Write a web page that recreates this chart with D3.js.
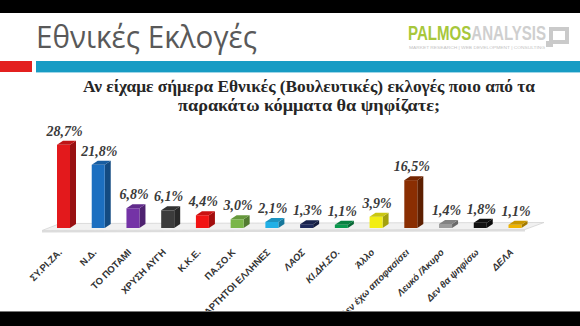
<!DOCTYPE html>
<html>
<head>
<meta charset="utf-8">
<script src="https://cdn.jsdelivr.net/npm/d3@7"></script>
<style>
  body { margin: 0; background: #fff; }
  svg { display: block; }
</style>
</head>
<body>
<svg id="chart"></svg>
<script>
// Party names as they appear under the bars
const categories = [
  'ΣΥ.ΡΙ.ΖΑ.', 'Ν.Δ.', 'ΤΟ ΠΟΤΑΜΙ', 'ΧΡΥΣΗ ΑΥΓΗ', 'Κ.Κ.Ε.', 'ΠΑ.ΣΟ.Κ',
  'ΑΝΕΞΑΡΤΗΤΟΙ ΕΛΛΗΝΕΣ', 'ΛΑΟΣ', 'ΚΙ.ΔΗ.ΣΟ.', 'Άλλο', 'Δεν έχω αποφασίσει',
  'Λευκό /Άκυρο', 'Δεν θα ψηφίσω', 'ΔΕΛΑ'
];
// Vote share (%)
const values = [28.7, 21.8, 6.8, 6.1, 4.4, 3.0, 2.1, 1.3, 1.1, 3.9, 16.5, 1.4, 1.8, 1.1];
const barColors = [
  '#e3191c', '#1c6fc0', '#7433a6', '#3c3c3c', '#f21414', '#7ab648',
  '#21b0e6', '#1e2a5c', '#0a9a4e', '#f2ee14', '#8a2e02', '#9c9c9c',
  '#111111', '#f0b400'
];

const titleText = 'Εθνικές Εκλογές';
const questionLines = [
  'Αν είχαμε σήμερα Εθνικές (Βουλευτικές) εκλογές ποιο από τα',
  'παρακάτω κόμματα θα ψηφίζατε;'
];

const width = 580, height = 326;

const svg = d3.select('#chart')
  .attr('width', width)
  .attr('height', height);

// ---- slide frame: black band on top
svg.append('rect').attr('x', 0).attr('y', 0).attr('width', width).attr('height', 13).attr('fill', '#000');

// ---- header
svg.append('text')
  .attr('x', 36)
  .attr('y', 48)
  .attr('font-family', '"Open Sans", "Noto Sans", sans-serif')
  .attr('font-size', 31)
  .attr('fill', '#595959')
  .attr('textLength', 221)
  .attr('lengthAdjust', 'spacingAndGlyphs')
  .text(titleText);

svg.append('rect').attr('x', 0).attr('y', 61).attr('width', 32).attr('height', 11).attr('fill', '#e3201f');
svg.append('rect').attr('x', 36).attr('y', 61).attr('width', width - 36).attr('height', 11).attr('fill', '#189cc4');
svg.append('rect').attr('x', 36).attr('y', 72).attr('width', width - 36).attr('height', 1).attr('fill', '#9fd6e8');

// logo: one text, two colours
const logo = svg.append('text')
  .attr('x', 408).attr('y', 40)
  .attr('font-family', '"Liberation Sans", Arial, sans-serif')
  .attr('font-weight', 'bold')
  .attr('font-size', 20)
  .attr('textLength', 138)
  .attr('lengthAdjust', 'spacingAndGlyphs');
logo.append('tspan').attr('fill', '#a7c73b').text('PALMOS');
logo.append('tspan').attr('fill', '#cfcfcf').text('ANALYSIS');
svg.append('text').attr('x', 409).attr('y', 48.5).attr('font-size', 3.5).attr('fill', '#c4c4c4')
  .attr('font-family', '"Liberation Sans", Arial, sans-serif')
  .attr('textLength', 136).attr('lengthAdjust', 'spacingAndGlyphs')
  .text('MARKET RESEARCH | WEB DEVELOPMENT | CONSULTING');
svg.append('rect').attr('x', 551).attr('y', 29).attr('width', 16).attr('height', 13)
  .attr('fill', 'none').attr('stroke', '#cacaca').attr('stroke-width', 4);
svg.append('rect').attr('x', 546).attr('y', 41).attr('width', 7).attr('height', 6).attr('fill', '#cacaca');

// question
svg.append('g')
  .attr('font-family', '"Liberation Serif", "DejaVu Serif", serif')
  .attr('font-weight', 'bold')
  .attr('font-size', 16)
  .attr('fill', '#262626')
  .attr('text-anchor', 'middle')
  .selectAll('text')
  .data(questionLines)
  .join('text')
  .attr('x', 309)
  .attr('y', (d, i) => 92 + i * 19)
  .attr('textLength', (d, i) => i === 0 ? 452 : 262)
  .attr('lengthAdjust', 'spacingAndGlyphs')
  .text(d => d);

// ---- 3D bar chart
const baseY = 228;
const faceW = 13;   // front face width
const depthX = 6, depthY = -4;

const xScale = d3.scalePoint()
  .domain(categories)
  .range([63.5, 515]);

const yScale = d3.scaleLinear()
  .domain([0, 30])
  .range([baseY, baseY - 87]);

const fmt = d3.formatLocale({ decimal: ',', thousands: '.', grouping: [3], currency: ['', '€'] }).format('.1f');

const chart = svg.append('g');

// floor
chart.append('path')
  .attr('d', `M42,230.5 L525,229.5 L544,222.5 L60,223.5 Z`)
  .attr('fill', '#f1f1f1')
  .attr('stroke', '#d4d4d4')
  .attr('stroke-width', 0.8);
chart.append('path')
  .attr('d', `M42,230.5 L525,229.5 L525,231.5 L42,232.5 Z`)
  .attr('fill', '#dcdcdc');

const data = categories.map((c, i) => ({ name: c, value: values[i], color: barColors[i] }));

const bars = chart.selectAll('.bar')
  .data(data)
  .join('g')
  .attr('class', 'bar');

// side face
bars.append('path')
  .attr('d', d => {
    const x1 = xScale(d.name) + faceW / 2, y0 = yScale(d.value);
    return `M${x1},${baseY} L${x1},${y0} L${x1 + depthX},${y0 + depthY} L${x1 + depthX},${baseY + depthY} Z`;
  })
  .attr('fill', d => d3.color(d.color).darker(1.1));

// front face
bars.append('rect')
  .attr('x', d => xScale(d.name) - faceW / 2)
  .attr('y', d => yScale(d.value))
  .attr('width', faceW)
  .attr('height', d => baseY - yScale(d.value))
  .attr('fill', d => d.color);

// top face
bars.append('path')
  .attr('d', d => {
    const x0 = xScale(d.name) - faceW / 2, x1 = x0 + faceW, y0 = yScale(d.value);
    return `M${x0},${y0} L${x1},${y0} L${x1 + depthX},${y0 + depthY} L${x0 + depthX},${y0 + depthY} Z`;
  })
  .attr('fill', d => d3.color(d.color).darker(0.5));

// value labels
chart.selectAll('.value-label')
  .data(data)
  .join('text')
  .attr('class', 'value-label')
  .attr('x', d => xScale(d.name) + 1)
  .attr('y', d => yScale(d.value) + depthY - 5)
  .attr('text-anchor', 'middle')
  .attr('font-family', '"Liberation Serif", "DejaVu Serif", serif')
  .attr('font-weight', 'bold')
  .attr('font-style', 'italic')
  .attr('font-size', 14)
  .attr('fill', '#3a3a3a')
  .text(d => fmt(d.value) + '%');

// category labels, rotated
chart.selectAll('.cat-label')
  .data(data)
  .join('text')
  .attr('class', 'cat-label')
  .attr('transform', d => `translate(${xScale(d.name) - 1},${253}) rotate(-45)`)
  .attr('text-anchor', 'end')
  .attr('font-family', '"Liberation Sans", Arial, sans-serif')
  .attr('font-weight', 'bold')
  .attr('font-style', (d, i) => i >= 7 ? 'italic' : 'normal')
  .attr('font-size', 9.5)
  .attr('fill', '#333')
  .text(d => d.name);

// bottom band drawn last so it covers the long rotated labels, as in the slide
svg.append('rect').attr('x', 0).attr('y', 312).attr('width', width).attr('height', 14).attr('fill', '#000');
svg.append('rect').attr('x', 0).attr('y', 311).attr('width', width).attr('height', 1).attr('fill', '#777');
</script>
</body>
</html>
